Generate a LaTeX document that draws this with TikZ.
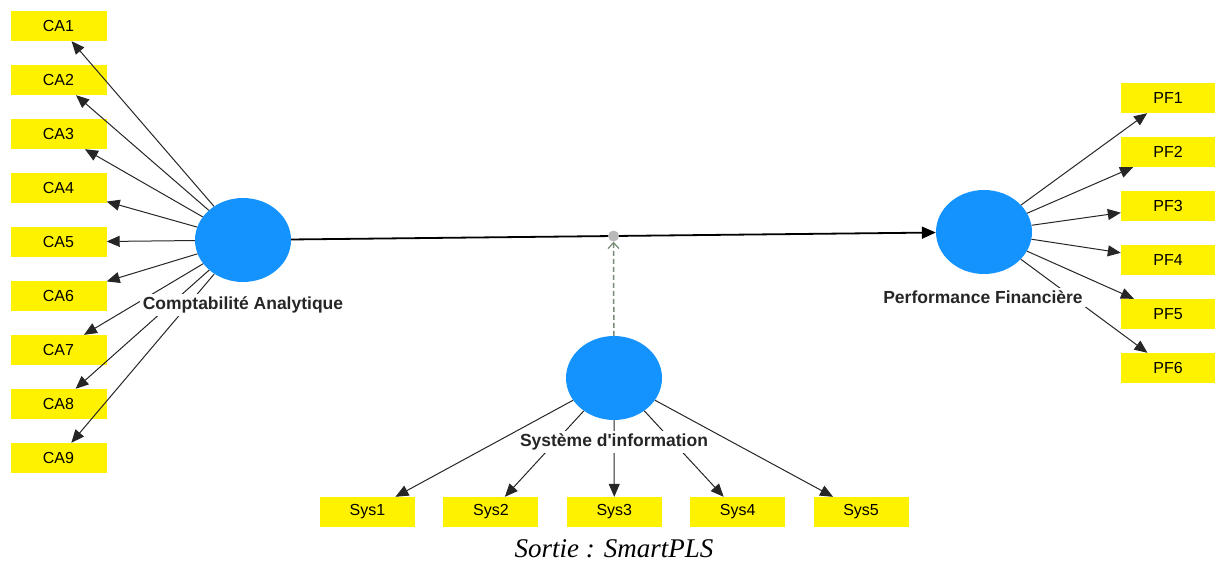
\documentclass[tikz,border=0pt]{standalone}
\usepackage{fontspec}
\setmainfont{Liberation Serif}
\setsansfont{Liberation Sans}
\usetikzlibrary{shapes.geometric, arrows.meta, positioning, calc}
\definecolor{latentblue}{RGB}{20,147,255}
\definecolor{moddot}{RGB}{185,185,185}
\definecolor{moddash}{RGB}{118,138,118}
\tikzset{
    node distance=23.6pt, % gap between two indicator boxes
    indicator/.style={ % yellow boxes of the items
        rectangle, fill=yellow, inner sep=0pt,
        minimum width=96pt, minimum height=30pt,
        font=\sffamily\fontsize{16}{16}\selectfont
    },
    latent/.style={ % blue constructs
        ellipse, fill=latentblue, inner sep=0pt,
        minimum width=96pt, minimum height=84pt
    },
    latentlabel/.style={
        fill=white, inner sep=3pt, text=black!85,
        font=\sffamily\bfseries\fontsize{17.5}{17.5}\selectfont
    },
    every edge/.style={ % item arrows
        draw, -{Triangle[length=13pt,width=11pt]},
        line width=1pt, black!85
    },
}

\begin{document}
\begin{tikzpicture}[x=1pt, y=-1pt]
    \useasboundingbox (0,0) rectangle (1215,563);
    % constructs
    \node[latent] (ca)  at (243,240)   {};
    \node[latent] (pf)  at (984,232)   {};
    \node[latent] (sys) at (614,378)   {};
    % items
    \node[indicator] (ca1) at (58.5,26) {CA1};
    \node[indicator, below=of ca1] (ca2) {CA2};
    \node[indicator, below=of ca2] (ca3) {CA3};
    \node[indicator, below=of ca3] (ca4) {CA4};
    \node[indicator, below=of ca4] (ca5) {CA5};
    \node[indicator, below=of ca5] (ca6) {CA6};
    \node[indicator, below=of ca6] (ca7) {CA7};
    \node[indicator, below=of ca7] (ca8) {CA8};
    \node[indicator, below=of ca8] (ca9) {CA9};

    \node[indicator, minimum width=94pt] (pf1) at (1168,98) {PF1};
    \node[indicator, minimum width=94pt, below=of pf1] (pf2) {PF2};
    \node[indicator, minimum width=94pt, below=of pf2] (pf3) {PF3};
    \node[indicator, minimum width=94pt, below=of pf3] (pf4) {PF4};
    \node[indicator, minimum width=94pt, below=of pf4] (pf5) {PF5};
    \node[indicator, minimum width=94pt, below=of pf5] (pf6) {PF6};

    \node[indicator, minimum width=95pt] (sys1) at (367.5,512) {Sys1};
    \node[indicator, minimum width=95pt, right=28pt of sys1] (sys2) {Sys2};
    \node[indicator, minimum width=95pt, right=28pt of sys2] (sys3) {Sys3};
    \node[indicator, minimum width=95pt, right=28pt of sys3] (sys4) {Sys4};
    \node[indicator, minimum width=95pt, right=28pt of sys4] (sys5) {Sys5};

    \draw   (ca) edge (ca1)  (ca) edge (ca2)  (ca) edge (ca3)
            (ca) edge (ca4)  (ca) edge (ca5)  (ca) edge (ca6)
            (ca) edge (ca7)  (ca) edge (ca8)  (ca) edge (ca9)
            (pf) edge (pf1)  (pf) edge (pf2)  (pf) edge (pf3)
            (pf) edge (pf4)  (pf) edge (pf5)  (pf) edge (pf6)
            (sys) edge (sys1) (sys) edge (sys2) (sys) edge (sys3)
            (sys) edge (sys4) (sys) edge (sys5)
    ;
    % structural path and moderation
    \draw[line width=1.8pt, black, -{Triangle[length=14pt,width=12pt]}] (ca) -- (pf);
    \node[circle, fill=moddot, inner sep=0pt, minimum size=11pt] (mod) at ($(ca)!0.5!(pf)$) {};
    \draw[moddash, line width=1.5pt, dash pattern=on 5pt off 3pt,
          -{Straight Barb[length=6pt,width=11pt,line width=1.2pt]}] (sys) -- (mod);

    \node[latentlabel] (calabel)  at (243,305) {Comptabilité Analytique};
    \node[latentlabel] (pflabel)  at (983,297) {Performance Financière};
    \node[latentlabel] (syslabel) at (614,442) {Système d\textquotesingle information};

    \node[font=\itshape\fontsize{27}{27}\selectfont] (source) at (614,549) {Sortie : SmartPLS};
\end{tikzpicture}
\end{document}
